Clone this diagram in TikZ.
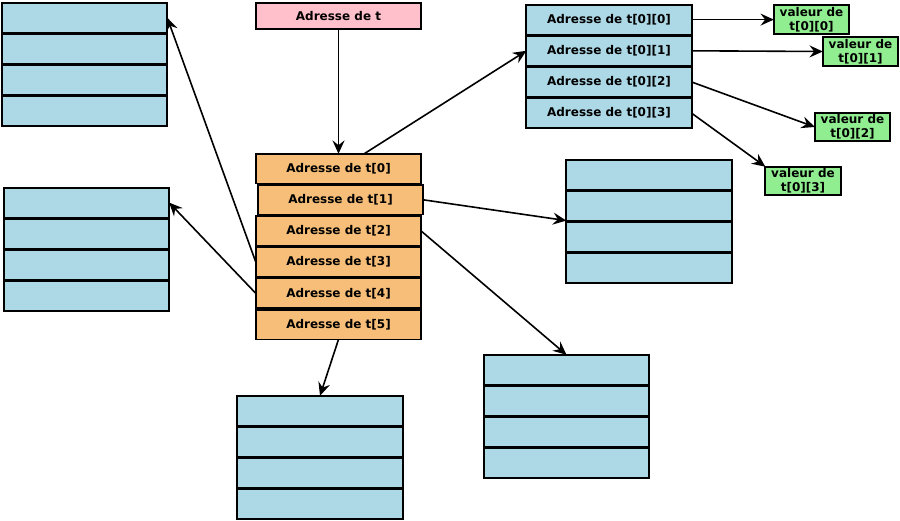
\documentclass[tikz,border=0pt]{standalone}
\usepackage{fontspec}
\setmainfont{DejaVu Sans}
\usetikzlibrary{arrows.meta, positioning}
\definecolor{adrpink}{RGB}{255, 192, 203}
\definecolor{adrorange}{RGB}{246, 190, 120}
\definecolor{tabblue}{RGB}{173, 216, 230}
\definecolor{valgreen}{RGB}{144, 238, 144}
\tikzset{
  cell/.style={draw=black, line width=1.3pt, minimum width=124pt, minimum height=22.2pt, inner sep=0pt, outer sep=0pt, font=\fontsize{9}{10}\selectfont\bfseries},
  tbox/.style={cell, fill=adrpink, minimum height=20pt},
  obox/.style={cell, fill=adrorange},
  bbox/.style={cell, fill=tabblue},
  vbox/.style={draw=black, line width=1.4pt, fill=valgreen, minimum width=56.5pt, minimum height=21.5pt, inner sep=0pt, outer sep=0pt, align=center, font=\fontsize{9}{10.2}\selectfont\bfseries},
  arr/.style={-{Stealth[length=10pt, width=9pt, inset=3.5pt]}, line width=1.2pt, black}
}

\begin{document}
\begin{tikzpicture}[x=0.75pt, y=-0.75pt]
  \useasboundingbox (0,0) rectangle (900,521);
  % adresse de t
  \node[tbox] (t) at (338.5,16) {Adresse de t};
  % tableau des adresses t[i]
  \node[obox] (t0) at (338.5,168.6) {Adresse de t[0]};
  \node[obox, below=1.2pt of t0, xshift=1.5pt] (t1) {Adresse de t[1]};
  \node[obox, below=1.2pt of t1, xshift=-1.5pt] (t2) {Adresse de t[2]};
  \node[obox, below=1.2pt of t2] (t3) {Adresse de t[3]};
  \node[obox, below=1.2pt of t3] (t4) {Adresse de t[4]};
  \node[obox, below=1.2pt of t4] (t5) {Adresse de t[5]};
  % tableau t[0]
  \node[bbox] (u0) at (609,19.6) {Adresse de t[0][0]};
  \node[bbox, below=1.2pt of u0] (u1) {Adresse de t[0][1]};
  \node[bbox, below=1.2pt of u1] (u2) {Adresse de t[0][2]};
  \node[bbox, below=1.2pt of u2] (u3) {Adresse de t[0][3]};
  % valeurs
  \node[vbox] (v0) at (811.5,19.6) {valeur de\\t[0][0]};
  \node[vbox] (v1) at (860.5,51.5) {valeur de\\t[0][1]};
  \node[vbox] (v2) at (852.5,127) {valeur de\\t[0][2]};
  \node[vbox] (v3) at (803,181) {valeur de\\t[0][3]};
  % les autres tableaux (vides)
  \foreach \nom/\x/\y in {tl/84.5/17.6, ml/86.5/202.6, rm/649/174.6, bm/320/410.6, br/566.5/369.6} {
    \node[bbox] (\nom-1) at (\x,\y) {};
    \foreach \i [count=\j from 2] in {1,2,3}
      \node[bbox, below=1.2pt of \nom-\i] (\nom-\j) {};
  }
  % fleches
  \draw[arr] (t) -- (t0);
  \draw[arr] (t0.30) -- (u1.west);
  \draw[arr] (u0.east) -- (v0.west);
  \draw[arr] (u1.east) -- (v1.west);
  \draw[arr] (u2.east) -- (v2.west);
  \draw[arr] (u3.east) -- (v3.north west);
  \draw[arr] (t1.east) -- (rm-2.south west);
  \draw[arr] (t2.east) -- (br-1.north);
  \draw[arr] (t5.south) -- (bm-1.north);
  \draw[arr] (t3.west) -- (tl-1.east);
  \draw[arr] (t4.west) -- (ml-1.east);
\end{tikzpicture}
\end{document}
